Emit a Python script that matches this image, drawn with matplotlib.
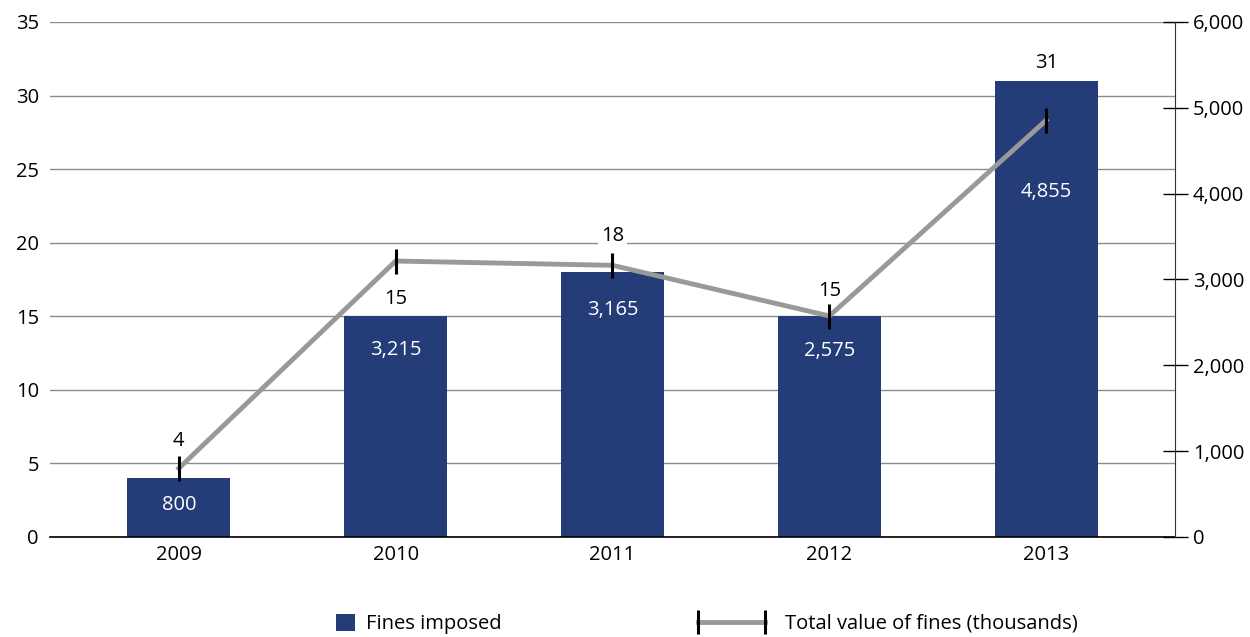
#!/usr/bin/env python
# -*- coding: utf-8 -*-
"""
fines imposed vs total value of fines
"""

import matplotlib.pyplot as plt
from matplotlib.lines import Line2D
from matplotlib.patches import Patch

plt.rcParams['font.family'] = ['Open Sans', 'DejaVu Sans']

years = ["2009", "2010", "2011", "2012", "2013"]
fines = [4, 15, 18, 15, 31]
values = [800, 3215, 3165, 2575, 4855]

bar_color = "#243c78"
line_color = "#999999"
fs = 14.5

fig = plt.figure(figsize=(12.5, 6.37), dpi=100)
ax = fig.add_axes([0.04, 0.157, 0.9, 0.8085])
ax2 = ax.twinx()

x = list(range(len(years)))
ax.bar(x, fines, width=0.475, color=bar_color, zorder=2)
ax.set_xlim(-0.594, 4.594)
ax.set_ylim(0, 35)
ax.set_yticks(range(0, 36, 5))
ax.set_xticks(x)
ax.set_xticklabels(years)
ax.grid(axis='y', color="#8c8c8c", linewidth=1, zorder=0)
ax.set_axisbelow(True)
ax.tick_params(axis='both', length=0, labelsize=fs, pad=6)
ax.tick_params(axis='y', pad=8)
for s in ['top', 'right', 'left']:
    ax.spines[s].set_visible(False)
ax.spines['bottom'].set_color('black')
ax.spines['bottom'].set_linewidth(1.2)

ax2.plot(x, values, color=line_color, linewidth=3.5, zorder=3)
ax2.plot(x, values, linestyle='none', marker='|', markersize=18,
         markeredgewidth=2.2, color='black', zorder=4)
ax2.set_ylim(0, 6000)
ax2.set_yticks(range(0, 6001, 1000))
ax2.set_yticklabels([f"{v:,}" for v in range(0, 6001, 1000)])
ax2.tick_params(axis='y', direction='inout', length=18, width=1,
                labelsize=fs, pad=4)
for s in ['top', 'left', 'bottom']:
    ax2.spines[s].set_visible(False)
ax2.spines['right'].set_color('#333333')

# count labels above the bars, value labels inside (offsets in points)
count_offsets = [27, 12.5, 26, 18, 13]
value_offsets = [-19.5, -24, -27, -25, -80]
for i in x:
    box = None
    if i == 2:
        box = dict(facecolor='white', edgecolor='none', pad=2)
    ax.annotate(str(fines[i]), (i, fines[i]), xytext=(0, count_offsets[i]),
                textcoords='offset points', ha='center', va='center',
                fontsize=fs, bbox=box, zorder=6)
    ax.annotate(f"{values[i]:,}", (i, fines[i]), xytext=(0, value_offsets[i]),
                textcoords='offset points', ha='center', va='center',
                fontsize=fs, color='white', zorder=5)

bar_handle = Patch(facecolor=bar_color)
line_handle = Line2D([0], [0], color=line_color, linewidth=3.5, marker='|',
                     markersize=17, markeredgewidth=2.2,
                     markeredgecolor='black')
fig.legend([bar_handle], ["Fines imposed"], loc='center left',
           bbox_to_anchor=(0.2688, 0.0205), frameon=False, fontsize=fs,
           handlelength=0.95, handleheight=0.95, handletextpad=0.55,
           borderpad=0, borderaxespad=0)
fig.legend([line_handle], ["Total value of fines (thousands)"],
           loc='center left', bbox_to_anchor=(0.5536, 0.0205),
           frameon=False, fontsize=fs, numpoints=2, handlelength=3.9,
           handletextpad=0.7, borderpad=0, borderaxespad=0)

fig.savefig("out.png", dpi=100)
